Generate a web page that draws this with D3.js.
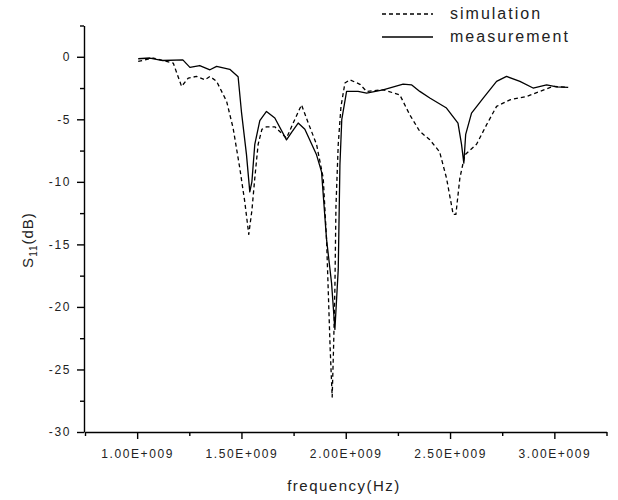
<!DOCTYPE html>
<html>
<head>
  <meta charset="utf-8">
  <title>S11 simulation vs measurement</title>
  <script src="https://d3js.org/d3.v7.min.js"></script>
  <style>
    body { margin: 0; background: #fff; }
    svg { display: block; font-family: "Liberation Sans", Arial, sans-serif; }
    .axis path, .axis line { stroke: #000; stroke-width: 1.4; }
    .axis text { font-size: 12px; letter-spacing: 1.6px; fill: #222; }
    .trace { fill: none; stroke: #000; stroke-width: 1.3; stroke-linejoin: round; }
  </style>
</head>
<body>
<div id="chart"></div>
<script>
  // frequency in GHz, S11 in dB
  const simFreq = [1.005, 1.077, 1.173, 1.213, 1.245, 1.285, 1.325, 1.349, 1.381, 1.429, 1.46, 1.492, 1.516, 1.535,
    1.55, 1.564, 1.58, 1.598, 1.62, 1.66, 1.716, 1.756, 1.788, 1.818, 1.86, 1.892, 1.908, 1.925, 1.935, 1.942,
    1.948, 1.953, 1.964, 1.977, 1.996, 2.02, 2.068, 2.10, 2.179, 2.259, 2.307, 2.355, 2.403, 2.45, 2.483, 2.515,
    2.528, 2.547, 2.571, 2.627, 2.675, 2.723, 2.787, 2.867, 2.93, 2.994, 3.066];
  const simS11 = [-0.37, -0.1, -0.5, -2.37, -1.7, -1.57, -1.84, -1.57, -1.97, -3.57, -5.7, -8.9, -11.6, -14.2,
    -12.3, -9.7, -7.0, -5.8, -5.6, -5.6, -6.5, -5.0, -3.84, -5.2, -7.0, -9.7, -14.6, -23.2, -27.2, -23.0,
    -18.5, -12.0, -7.0, -4.0, -2.1, -1.84, -2.2, -2.77, -2.64, -3.04, -4.64, -5.97, -6.64, -7.6, -9.7, -12.6,
    -12.6, -9.7, -7.84, -7.0, -5.44, -3.97, -3.44, -3.17, -2.77, -2.37, -2.45];

  const measFreq = [1.005, 1.061, 1.123, 1.219, 1.253, 1.30, 1.349, 1.381, 1.444, 1.484, 1.50, 1.524, 1.54, 1.55,
    1.564, 1.588, 1.62, 1.66, 1.716, 1.742, 1.772, 1.804, 1.86, 1.884, 1.908, 1.932, 1.948, 1.964, 1.972,
    1.981, 2.004, 2.059, 2.10, 2.179, 2.275, 2.315, 2.355, 2.403, 2.483, 2.538, 2.555, 2.566, 2.575, 2.603,
    2.659, 2.723, 2.771, 2.835, 2.898, 2.963, 3.011, 3.066];
  const measS11 = [-0.16, -0.1, -0.3, -0.25, -0.85, -0.7, -1.04, -0.77, -1.0, -1.6, -4.4, -7.8, -10.8, -10.0,
    -7.0, -5.1, -4.37, -4.9, -6.64, -6.0, -5.3, -5.8, -7.84, -9.2, -14.6, -18.1, -21.8, -17.0, -8.7,
    -5.0, -2.77, -2.77, -2.9, -2.64, -2.19, -2.24, -2.77, -3.3, -4.1, -5.3, -7.0, -8.5, -6.2, -4.5,
    -3.3, -1.97, -1.57, -1.97, -2.5, -2.24, -2.4, -2.45];

  const xTicks = [1.0, 1.5, 2.0, 2.5, 3.0];
  const xTickLabels = ["1.00E+009", "1.50E+009", "2.00E+009", "2.50E+009", "3.00E+009"];
  const xMinor = [0.75, 1.25, 1.75, 2.25, 2.75, 3.25];
  const yTicks = [0, -5, -10, -15, -20, -25, -30];
  const yMinor = [2.5, -2.5, -7.5, -12.5, -17.5, -22.5, -27.5];
  const legendNames = ["simulation", "measurement"];

  const width = 618, height = 500;

  const x = d3.scaleLinear().domain([0.75, 3.25]).range([85, 606.5]);
  const y = d3.scaleLinear().domain([-30, 2.5]).range([432, 25.5]);

  const svg = d3.select("#chart").append("svg")
    .attr("width", width)
    .attr("height", height);

  // minor ticks
  svg.append("g").attr("class", "axis")
    .attr("transform", "translate(0,432)")
    .call(d3.axisBottom(x).tickValues(xMinor).tickSize(4).tickFormat("").tickSizeOuter(0))
    .select(".domain").remove();
  svg.append("g").attr("class", "axis")
    .attr("transform", "translate(84,0)")
    .call(d3.axisLeft(y).tickValues(yMinor).tickSize(4).tickFormat("").tickSizeOuter(0))
    .select(".domain").remove();

  // major axes
  svg.append("g").attr("class", "axis")
    .attr("transform", "translate(0,432)")
    .call(d3.axisBottom(x).tickValues(xTicks).tickSize(7).tickPadding(10).tickSizeOuter(0)
      .tickFormat((d, i) => xTickLabels[i]));
  svg.append("g").attr("class", "axis")
    .attr("transform", "translate(84,0)")
    .call(d3.axisLeft(y).tickValues(yTicks).tickSize(7).tickPadding(6).tickSizeOuter(0)
      .tickFormat(d => d));

  // axis titles
  svg.append("text")
    .attr("x", 344).attr("y", 491)
    .attr("text-anchor", "middle")
    .style("font-size", "15px").style("letter-spacing", "1.5px").attr("fill", "#222")
    .text("frequency(Hz)");

  const yTitle = svg.append("text")
    .attr("transform", "translate(33,240) rotate(-90)")
    .attr("text-anchor", "middle")
    .style("font-size", "15px").style("letter-spacing", "1px").attr("fill", "#222");
  yTitle.append("tspan").text("S");
  yTitle.append("tspan").attr("dy", 4).style("font-size", "10px").text("11");
  yTitle.append("tspan").attr("dy", -4).text("(dB)");

  const line = d3.line().x(d => x(d[0])).y(d => y(d[1]));

  svg.append("path")
    .datum(d3.zip(simFreq, simS11))
    .attr("class", "trace")
    .attr("stroke-dasharray", "4,3")
    .attr("d", line);

  svg.append("path")
    .datum(d3.zip(measFreq, measS11))
    .attr("class", "trace")
    .attr("d", line);

  // legend
  const legend = svg.append("g");
  legendNames.forEach((name, i) => {
    const ly = i === 0 ? 14 : 37;
    legend.append("line")
      .attr("x1", 382).attr("x2", 433)
      .attr("y1", ly).attr("y2", ly)
      .attr("stroke", "#000").attr("stroke-width", 1.3)
      .attr("stroke-dasharray", i === 0 ? "4,3" : null);
    legend.append("text")
      .attr("x", 450).attr("y", ly + 5)
      .style("font-size", "16px").style("letter-spacing", "2px").attr("fill", "#222")
      .text(name);
  });
</script>
</body>
</html>
